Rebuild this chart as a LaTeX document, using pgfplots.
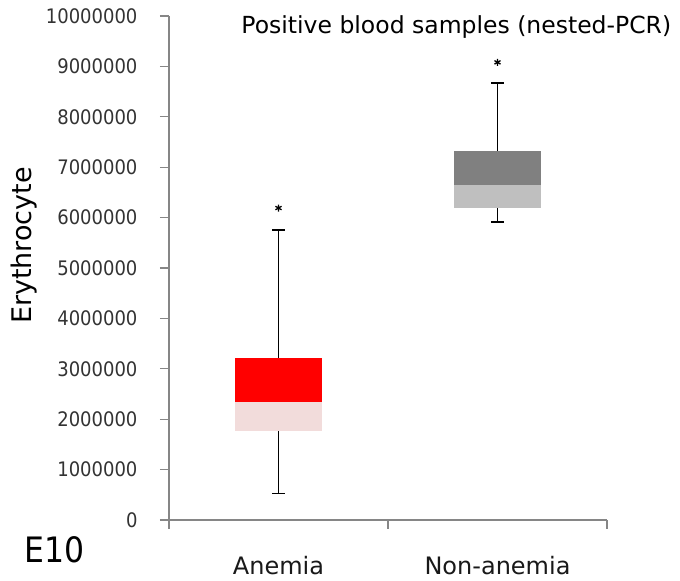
\documentclass[border=0pt]{standalone}
\usepackage{pgfplots}
\pgfplotsset{compat=1.18}
\usepackage{fontspec}
\setmainfont{DejaVu Sans}
\newfontfamily\condfont{DejaVu Sans Condensed}
\definecolor{axgray}{RGB}{134,134,134}
\definecolor{anemHi}{RGB}{255,0,0}
\definecolor{anemLo}{RGB}{242,220,219}
\definecolor{nonHi}{RGB}{128,128,128}
\definecolor{nonLo}{RGB}{191,191,191}
\begin{document}
\begin{tikzpicture}
\path[use as bounding box] (-169bp,-61bp) rectangle (511bp,520bp);
\begin{axis}[
  at={(0,0)}, anchor=south west,
  scale only axis, width=438bp, height=504bp,
  xmin=0, xmax=2, ymin=0, ymax=10000000,
  axis x line=bottom, axis y line=left,
  axis line style={-, draw=axgray, line width=1.2bp},
  tick style={draw=axgray, line width=1.2bp},
  tick align=outside, major tick length=9bp,
  xtick={0,1,2}, xticklabels={},
  extra x ticks={0.5,1.5},
  extra x tick labels={Anemia,Non-anemia},
  extra x tick style={major tick length=0pt, tick label style={anchor=base, yshift=-54bp, font=\fontsize{24bp}{28bp}\selectfont, text=black!90}},
  ytick={0,1000000,...,10000000},
  scaled y ticks=false,
  yticklabel style={font=\condfont\fontsize{20bp}{22bp}\selectfont, text=black!80, xshift=-19bp,
    /pgf/number format/fixed, /pgf/number format/precision=0,
    /pgf/number format/1000 sep={}, /pgf/number format/assume math mode=true},
  clip=false,
]
% Anemia box
\addplot[fill=anemLo, draw=none] coordinates {(0.3,1770000) (0.7,1770000) (0.7,2350000) (0.3,2350000)};
\addplot[fill=anemHi, draw=none] coordinates {(0.3,2350000) (0.7,2350000) (0.7,3218000) (0.3,3218000)};
% Non-anemia box
\addplot[fill=nonLo, draw=none] coordinates {(1.3,6190000) (1.7,6190000) (1.7,6637000) (1.3,6637000)};
\addplot[fill=nonHi, draw=none] coordinates {(1.3,6637000) (1.7,6637000) (1.7,7330000) (1.3,7330000)};
% whiskers
\addplot[black, line width=1.9bp] coordinates {(0.5,3218000) (0.5,5760000)};
\addplot[black, line width=1.9bp] coordinates {(0.5,526000) (0.5,1770000)};
\addplot[black, line width=1.9bp] coordinates {(0.4725,5760000) (0.5275,5760000)};
\addplot[black, line width=1.9bp] coordinates {(0.4725,526000) (0.5275,526000)};
\addplot[black, line width=1.9bp] coordinates {(1.5,7330000) (1.5,8667000)};
\addplot[black, line width=1.9bp] coordinates {(1.5,5920000) (1.5,6190000)};
\addplot[black, line width=1.9bp] coordinates {(1.4725,8667000) (1.5275,8667000)};
\addplot[black, line width=1.9bp] coordinates {(1.4725,5920000) (1.5275,5920000)};
% outliers
\addplot[only marks, mark=asterisk, mark size=3.5bp, mark options={line width=1.3bp, black}] coordinates {(0.5,6190000) (1.5,9080000)};
% texts
\node[anchor=base, font=\fontsize{23.5bp}{27bp}\selectfont, inner sep=0pt] at (axis description cs:0.656,0.966) {Positive blood samples (nested-PCR)};
\node[rotate=90, anchor=center, font=\fontsize{27bp}{30bp}\selectfont, inner sep=0pt] at ([xshift=-145bp]axis description cs:0,0.5446) {Erythrocyte};
\node[anchor=base west, font=\condfont\fontsize{35bp}{38bp}\selectfont, inner sep=0pt] at ([xshift=-145bp, yshift=-42bp]axis description cs:0,0) {E10};
\end{axis}
\end{tikzpicture}
\end{document}
